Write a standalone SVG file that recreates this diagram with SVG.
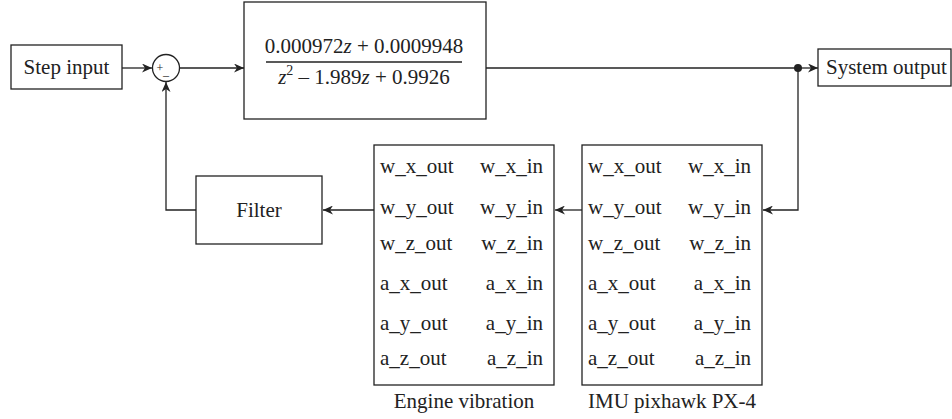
<svg xmlns="http://www.w3.org/2000/svg" width="952" height="419" viewBox="0 0 952 419">
<style>
.box{fill:#fff;stroke:#222;stroke-width:1.3}
.ln{fill:none;stroke:#222;stroke-width:1.3}
text{font-family:"Liberation Serif","Times New Roman",serif;font-size:21px;fill:#222}
.c{text-anchor:middle}
.r{text-anchor:end}
.sm{font-size:12px}
.it{font-style:italic}
</style>
<defs>
<marker id="ah" markerUnits="userSpaceOnUse" markerWidth="11" markerHeight="9" refX="10" refY="4.5" orient="auto">
<path d="M0,0 L10,4.5 L0,9 L3,4.5 z" fill="#222"/>
</marker>
</defs>
<g id="step">
<rect class="box" x="11" y="45" width="111" height="44"/>
<text class="c" x="66.5" y="74">Step input</text>
</g>
<g id="sum">
<circle class="box" cx="166" cy="68" r="13.5"/>
<text class="sm c" x="160" y="72">+</text>
<text class="sm c" x="166" y="79">–</text>
</g>
<g id="tf">
<rect class="box" x="244" y="2" width="242" height="117"/>
<text class="c" x="364" y="53">0.000972<tspan class="it">z</tspan> + 0.0009948</text>
<line class="ln" x1="266" y1="62" x2="462" y2="62"/>
<text class="c" x="364" y="84"><tspan class="it">z</tspan><tspan font-size="14" dy="-9">2</tspan><tspan dy="9"> – 1.989</tspan><tspan class="it">z</tspan> + 0.9926</text>
</g>
<g id="sysout">
<rect class="box" x="818" y="49" width="133" height="37"/>
<text x="826" y="74">System output</text>
</g>
<g id="filter">
<rect class="box" x="196" y="176" width="126" height="68"/>
<text class="c" x="259" y="217">Filter</text>
</g>
<g id="engine">
<rect class="box" x="374" y="145" width="180" height="240"/>
<text x="380" y="173">w_x_out</text><text class="r" x="543" y="173">w_x_in</text>
<text x="380" y="214">w_y_out</text><text class="r" x="543" y="214">w_y_in</text>
<text x="380" y="250">w_z_out</text><text class="r" x="543" y="250">w_z_in</text>
<text x="380" y="290">a_x_out</text><text class="r" x="543" y="290">a_x_in</text>
<text x="380" y="330">a_y_out</text><text class="r" x="543" y="330">a_y_in</text>
<text x="380" y="365">a_z_out</text><text class="r" x="543" y="365">a_z_in</text>
<text class="c" x="464" y="408">Engine vibration</text>
</g>
<g id="imu">
<rect class="box" x="582" y="145" width="180" height="240"/>
<text x="588" y="173">w_x_out</text><text class="r" x="751" y="173">w_x_in</text>
<text x="588" y="214">w_y_out</text><text class="r" x="751" y="214">w_y_in</text>
<text x="588" y="250">w_z_out</text><text class="r" x="751" y="250">w_z_in</text>
<text x="588" y="290">a_x_out</text><text class="r" x="751" y="290">a_x_in</text>
<text x="588" y="330">a_y_out</text><text class="r" x="751" y="330">a_y_in</text>
<text x="588" y="365">a_z_out</text><text class="r" x="751" y="365">a_z_in</text>
<text class="c" x="672" y="408">IMU pixhawk PX-4</text>
</g>
<g id="connectors">
<line class="ln" x1="122" y1="68" x2="152" y2="68" marker-end="url(#ah)"/>
<line class="ln" x1="179.5" y1="68" x2="244" y2="68" marker-end="url(#ah)"/>
<line class="ln" x1="486" y1="68" x2="798" y2="68"/>
<circle cx="798" cy="68" r="4" fill="#222"/>
<line class="ln" x1="798" y1="68" x2="818" y2="68" marker-end="url(#ah)"/>
<polyline class="ln" points="798,68 798,210 763,210" marker-end="url(#ah)"/>
<line class="ln" x1="582" y1="210" x2="555" y2="210" marker-end="url(#ah)"/>
<line class="ln" x1="374" y1="210" x2="323" y2="210" marker-end="url(#ah)"/>
<polyline class="ln" points="196,210 166,210 166,82" marker-end="url(#ah)"/>
</g>
</svg>
